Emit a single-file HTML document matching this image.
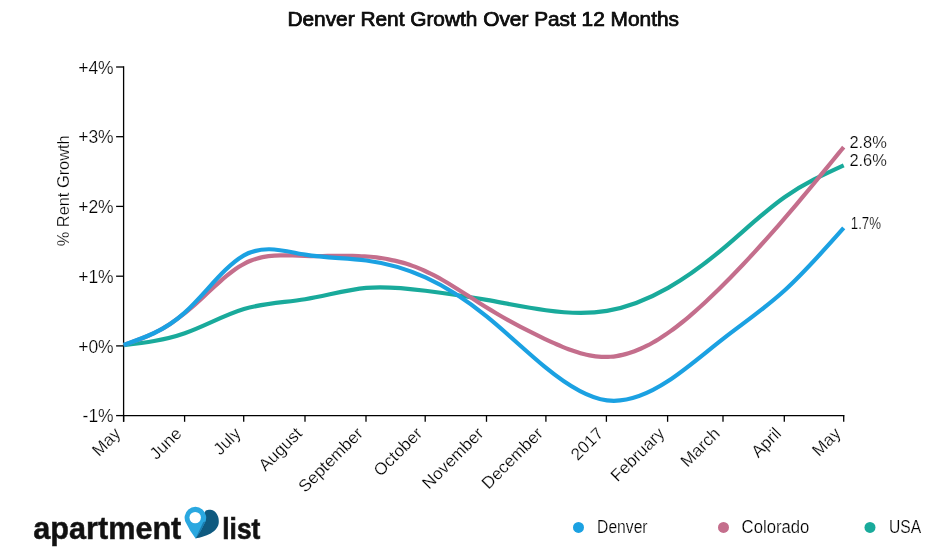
<!DOCTYPE html>
<html lang="en"><head><meta charset="utf-8"><title>Denver Rent Growth Over Past 12 Months</title>
<style>
html,body{margin:0;padding:0;background:#fff;}
body{width:939px;height:551px;overflow:hidden;}
svg{display:block;}
text{font-family:"Liberation Sans",sans-serif;fill:#111;}
.lt{fill:#000;stroke:#fff;stroke-width:0.22px;}
.ax{stroke:#000;stroke-width:1.3;fill:none;}
.ln{fill:none;stroke-width:4.2;stroke-linejoin:round;stroke-linecap:butt;}
.tk{font-size:16.5px;}.yt{font-size:17.5px;}
</style></head><body>
<svg width="939" height="551" viewBox="0 0 939 551">
<rect width="939" height="551" fill="#fff"/>
<text x="483.2" y="26.2" text-anchor="middle" font-size="19.4" textLength="391.5" lengthAdjust="spacingAndGlyphs" stroke="#000" stroke-width="0.7" fill="#000">Denver Rent Growth Over Past 12 Months</text>
<text class="lt" transform="translate(69.2,190.8) rotate(-90)" text-anchor="middle" font-size="17" textLength="111" lengthAdjust="spacingAndGlyphs">% Rent Growth</text>
<path class="ax" d="M123.6,66.3V421.8M123.6,415.6H844.4"/>
<path class="ax" d="M116.1,67.0H123.6"/><text class="tk yt lt" x="113.7" y="73.7" text-anchor="end">+4%</text>
<path class="ax" d="M116.1,136.7H123.6"/><text class="tk yt lt" x="113.7" y="143.4" text-anchor="end">+3%</text>
<path class="ax" d="M116.1,206.4H123.6"/><text class="tk yt lt" x="113.7" y="213.1" text-anchor="end">+2%</text>
<path class="ax" d="M116.1,276.2H123.6"/><text class="tk yt lt" x="113.7" y="282.9" text-anchor="end">+1%</text>
<path class="ax" d="M116.1,345.9H123.6"/><text class="tk yt lt" x="113.7" y="352.6" text-anchor="end">+0%</text>
<path class="ax" d="M116.1,415.6H123.6"/><text class="tk yt lt" x="113.7" y="422.3" text-anchor="end">-1%</text>
<path class="ax" d="M123.6,415.6V421.8"/><text class="tk lt" style="font-size:17px" transform="translate(121.6,434.5) rotate(-45)" text-anchor="end">May</text>
<path class="ax" d="M184.6,415.6V421.8"/><text class="tk lt" style="font-size:17px" transform="translate(182.6,434.5) rotate(-45)" text-anchor="end">June</text>
<path class="ax" d="M243.7,415.6V421.8"/><text class="tk lt" style="font-size:17px" transform="translate(241.7,434.5) rotate(-45)" text-anchor="end">July</text>
<path class="ax" d="M305.0,415.6V421.8"/><text class="tk lt" style="font-size:17px" transform="translate(303.0,434.5) rotate(-45)" text-anchor="end">August</text>
<path class="ax" d="M366.0,415.6V421.8"/><text class="tk lt" style="font-size:17px" transform="translate(364.0,434.5) rotate(-45)" text-anchor="end">September</text>
<path class="ax" d="M425.2,415.6V421.8"/><text class="tk lt" style="font-size:17px" transform="translate(423.2,434.5) rotate(-45)" text-anchor="end">October</text>
<path class="ax" d="M486.5,415.6V421.8"/><text class="tk lt" style="font-size:17px" transform="translate(484.5,434.5) rotate(-45)" text-anchor="end">November</text>
<path class="ax" d="M545.9,415.6V421.8"/><text class="tk lt" style="font-size:17px" transform="translate(543.9,434.5) rotate(-45)" text-anchor="end">December</text>
<path class="ax" d="M606.4,415.6V421.8"/><text class="tk lt" style="font-size:17px" transform="translate(604.4,434.5) rotate(-45)" text-anchor="end">2017</text>
<path class="ax" d="M667.6,415.6V421.8"/><text class="tk lt" style="font-size:17px" transform="translate(665.6,434.5) rotate(-45)" text-anchor="end">February</text>
<path class="ax" d="M723.0,415.6V421.8"/><text class="tk lt" style="font-size:17px" transform="translate(721.0,434.5) rotate(-45)" text-anchor="end">March</text>
<path class="ax" d="M784.3,415.6V421.8"/><text class="tk lt" style="font-size:17px" transform="translate(782.3,434.5) rotate(-45)" text-anchor="end">April</text>
<path class="ax" d="M843.7,415.6V421.8"/><text class="tk lt" style="font-size:17px" transform="translate(841.7,434.5) rotate(-45)" text-anchor="end">May</text>
<path class="ln" stroke="#19AA9B" d="M123.60,345.20C143.99,342.79 164.37,340.37 184.76,333.21C204.49,326.28 224.22,314.91 243.95,308.98C264.33,302.85 284.72,302.53 305.10,299.27C325.49,296.00 345.88,289.79 366.26,287.89C385.99,286.04 405.72,288.22 425.45,290.74C445.84,293.35 466.22,296.31 486.61,299.93C506.34,303.44 526.07,307.56 545.80,310.23C566.18,312.98 586.57,314.19 606.95,310.81C627.34,307.42 647.73,299.44 668.11,287.82C686.53,277.32 704.94,263.85 723.35,248.36C743.74,231.22 764.13,211.59 784.51,197.22C804.24,183.31 823.97,174.31 843.70,165.31"/>
<path class="ln" stroke="#C46E8C" d="M123.60,344.94C125.60,344.25 127.60,343.56 129.60,342.87C131.60,342.17 133.60,341.46 135.60,340.73C137.60,340.00 139.60,339.25 141.60,338.46C143.60,337.68 145.60,336.86 147.60,336.01C149.60,335.15 151.60,334.25 153.60,333.29C155.60,332.34 157.60,331.33 159.60,330.25C161.60,329.18 163.60,328.04 165.60,326.83C167.60,325.62 169.60,324.33 171.60,322.96C173.91,321.37 176.23,319.67 178.54,317.84C180.54,316.42 182.54,314.92 184.54,313.35C186.54,311.79 188.54,310.14 190.54,308.43C192.54,306.72 194.54,304.96 196.54,303.15C198.54,301.35 200.54,299.51 202.54,297.65C204.54,295.80 206.54,293.93 208.54,292.06C210.54,290.19 212.54,288.33 214.54,286.49C216.54,284.66 218.54,282.85 220.54,281.08C222.54,279.32 224.54,277.61 226.54,275.96C228.54,274.31 230.54,272.73 232.54,271.24C234.54,269.75 236.54,268.35 238.54,267.06C240.54,265.77 242.54,264.59 244.54,263.55C246.54,262.50 248.54,261.58 250.54,260.77C252.54,259.97 254.54,259.27 256.54,258.68C258.54,258.09 260.54,257.59 262.54,257.18C264.54,256.77 266.54,256.44 268.54,256.18C270.54,255.93 272.54,255.74 274.54,255.61C276.54,255.48 278.54,255.40 280.54,255.36C282.54,255.32 284.54,255.33 286.54,255.36C288.54,255.39 290.54,255.44 292.54,255.51C294.54,255.57 296.54,255.65 298.54,255.73C300.54,255.80 302.54,255.87 304.54,255.92C306.54,255.98 308.54,256.01 310.54,256.03C312.54,256.04 314.54,256.05 316.54,256.04C318.54,256.03 320.54,256.01 322.54,255.99C324.54,255.97 326.54,255.94 328.54,255.91C330.54,255.88 332.54,255.84 334.54,255.82C336.54,255.79 338.54,255.77 340.54,255.75C342.54,255.74 344.54,255.73 346.54,255.74C348.54,255.74 350.54,255.76 352.54,255.80C354.54,255.84 356.54,255.90 358.54,255.98C360.54,256.05 362.54,256.16 364.54,256.29C366.54,256.42 368.54,256.57 370.54,256.76C372.54,256.95 374.54,257.17 376.54,257.42C378.54,257.67 380.54,257.95 382.54,258.27C384.54,258.59 386.54,258.94 388.54,259.33C390.54,259.72 392.54,260.14 394.54,260.61C396.54,261.07 398.54,261.57 400.54,262.12C402.54,262.66 404.54,263.24 406.54,263.87C408.54,264.50 410.54,265.17 412.54,265.88C414.54,266.59 416.54,267.35 418.54,268.16C420.54,268.96 422.54,269.81 424.54,270.71C426.54,271.62 428.54,272.57 430.54,273.56C432.54,274.56 434.54,275.59 436.54,276.67C438.54,277.74 440.54,278.86 442.54,280.00C444.54,281.14 446.54,282.31 448.54,283.51C450.54,284.71 452.54,285.93 454.54,287.17C456.54,288.40 458.54,289.66 460.54,290.92C462.54,292.19 464.54,293.47 466.54,294.75C468.54,296.03 470.54,297.31 472.54,298.59C474.54,299.87 476.54,301.15 478.54,302.42C480.54,303.69 482.54,304.96 484.54,306.20C486.54,307.45 488.54,308.68 490.54,309.89C492.54,311.10 494.54,312.29 496.54,313.47C498.54,314.64 500.54,315.80 502.54,316.95C504.54,318.09 506.54,319.22 508.54,320.33C510.54,321.44 512.54,322.54 514.54,323.62C516.54,324.70 518.54,325.76 520.54,326.82C522.54,327.87 524.54,328.90 526.54,329.93C528.54,330.95 530.54,331.96 532.54,332.96C534.54,333.95 536.54,334.94 538.54,335.91C540.54,336.88 542.54,337.84 544.54,338.78C546.54,339.73 548.54,340.67 550.54,341.59C552.54,342.50 554.54,343.41 556.54,344.28C558.54,345.16 560.54,346.01 562.54,346.83C564.54,347.65 566.54,348.44 568.54,349.19C570.54,349.94 572.54,350.65 574.54,351.32C576.54,351.98 578.54,352.60 580.54,353.16C582.54,353.73 584.54,354.24 586.54,354.69C588.54,355.14 590.54,355.53 592.54,355.85C594.54,356.18 596.54,356.43 598.54,356.61C600.54,356.79 602.54,356.89 604.54,356.92C606.54,356.94 608.54,356.88 610.54,356.73C612.54,356.59 614.54,356.36 616.54,356.05C618.54,355.74 620.54,355.36 622.54,354.89C624.54,354.43 626.54,353.89 628.54,353.28C630.54,352.67 632.54,351.99 634.54,351.24C636.54,350.49 638.54,349.67 640.54,348.79C642.54,347.91 644.54,346.96 646.54,345.95C648.54,344.94 650.54,343.87 652.54,342.74C654.54,341.62 656.54,340.43 658.54,339.20C660.54,337.96 662.54,336.67 664.54,335.33C666.54,333.99 668.54,332.60 670.54,331.16C672.54,329.72 674.54,328.24 676.54,326.71C678.54,325.19 680.54,323.62 682.54,322.01C684.54,320.40 686.54,318.75 688.54,317.06C690.54,315.38 692.54,313.65 694.54,311.90C696.54,310.14 698.54,308.35 700.54,306.53C702.54,304.72 704.54,302.87 706.54,300.99C708.54,299.12 710.54,297.21 712.54,295.29C714.54,293.36 716.54,291.41 718.54,289.44C720.54,287.47 722.54,285.48 724.54,283.47C726.54,281.47 728.54,279.44 730.54,277.40C732.54,275.36 734.54,273.30 736.54,271.22C738.54,269.15 740.54,267.06 742.54,264.95C744.54,262.84 746.54,260.71 748.54,258.57C750.54,256.43 752.54,254.27 754.54,252.10C756.54,249.93 758.54,247.74 760.54,245.54C762.54,243.33 764.54,241.11 766.54,238.88C768.54,236.65 770.54,234.40 772.54,232.13C774.54,229.87 776.54,227.59 778.54,225.30C780.54,223.01 782.54,220.70 784.54,218.38C786.54,216.06 788.54,213.73 790.54,211.38C792.54,209.03 794.54,206.68 796.54,204.31C798.54,201.94 800.54,199.56 802.54,197.17C804.54,194.78 806.54,192.38 808.54,189.97C810.54,187.56 812.54,185.15 814.54,182.72C816.54,180.30 818.54,177.87 820.54,175.43C822.54,173.00 824.54,170.56 826.54,168.12C828.54,165.67 830.54,163.22 832.54,160.77C834.54,158.32 836.54,155.87 838.54,153.41C840.26,151.30 841.98,149.19 843.70,147.08"/>
<path class="ln" stroke="#1BA1E2" d="M123.60,344.94C143.99,337.93 164.37,330.93 184.76,312.58C204.49,294.82 224.22,266.43 243.95,255.42C264.33,244.05 284.72,251.24 305.10,254.68C325.49,258.12 345.88,257.80 366.26,260.47C385.99,263.05 405.72,268.41 425.45,277.42C445.84,286.72 466.22,299.90 486.61,316.41C506.34,332.39 526.07,351.49 545.80,367.64C566.18,384.32 586.57,397.85 606.95,400.39C627.34,402.93 647.73,394.47 668.11,381.11C686.53,369.05 704.94,352.99 723.35,338.65C743.74,322.78 764.13,309.00 784.51,290.51C804.24,272.61 823.97,250.29 843.70,227.97"/>
<text class="tk lt" style="font-size:17px" x="849.4" y="147.9" textLength="37.5" lengthAdjust="spacingAndGlyphs">2.8%</text>
<text class="tk lt" style="font-size:17px" x="849.4" y="165.8" textLength="37.5" lengthAdjust="spacingAndGlyphs">2.6%</text>
<text class="tk lt" style="font-size:17px" x="850.8" y="228.8" textLength="30.2" lengthAdjust="spacingAndGlyphs">1.7%</text>
<circle cx="578.5" cy="527.4" r="5.5" fill="#1BA1E2"/><text class="lt" x="597.1" y="533.3" font-size="18" textLength="50.5" lengthAdjust="spacingAndGlyphs">Denver</text>
<circle cx="723.5" cy="527.4" r="5.5" fill="#C46E8C"/><text class="lt" x="741.6" y="533.3" font-size="18" textLength="67.8" lengthAdjust="spacingAndGlyphs">Colorado</text>
<circle cx="870.0" cy="527.4" r="5.5" fill="#19AA9B"/><text class="lt" x="889.0" y="533.3" font-size="18" textLength="32.2" lengthAdjust="spacingAndGlyphs">USA</text>
<text x="33.3" y="538.7" font-size="30.6" font-weight="bold" fill="#222" stroke="#222" stroke-width="0.5" textLength="148" lengthAdjust="spacingAndGlyphs">apartment</text>
<text x="222.3" y="538.7" font-size="30" font-weight="bold" fill="#222" stroke="#222" stroke-width="0.7" textLength="38" lengthAdjust="spacingAndGlyphs">list</text>
<g>
<path fill="#0F5A80" d="M195.6,538.4 C198,538.2 200.5,537.4 202.5,536.8 C205.5,535.8 208.3,534.8 210.7,533.5 C213,532.2 215,530.6 216.4,528.6 C217.9,526.6 218.8,524.5 218.8,522.1 C218.9,519.5 218.5,516.8 217.2,514.7 C215.8,512 213.5,509.9 210.7,509.8 C208.8,509.7 207,510 205.8,510.6 L200,520 Z"/>
<path fill="#2AA8E0" d="M195.6,538.4 Q189.5,530.5 186.2,523.3 A10.8,10.8 0 1 1 204.6,523.3 Q201.5,530.5 195.6,538.4 Z"/>
<path fill="#1A7DB0" d="M205.6,521.2 L203.2,522.2 L195.6,538.4 Q201.5,530.5 204.6,523.3 Z"/>
<circle cx="195.2" cy="517.6" r="5.7" fill="#fff"/>
</g>
</svg></body></html>
